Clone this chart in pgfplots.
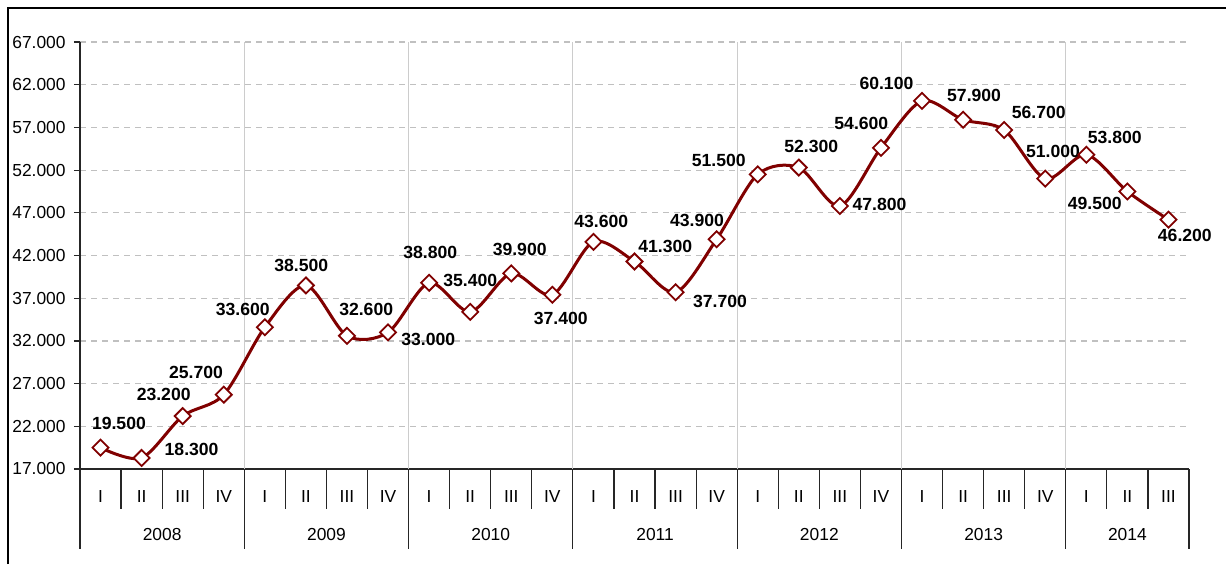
\documentclass[border=0pt]{standalone}
\usepackage{pgfplots}
\pgfplotsset{compat=1.18}
\usepackage{fontspec}
\setmainfont{Liberation Sans}
\definecolor{serie}{HTML}{800000}
\definecolor{gridc}{HTML}{C0C0C0}
\definecolor{yearc}{HTML}{CCCCCC}
\begin{document}
\begin{tikzpicture}[font=\fontsize{8.7}{10}\selectfont]
\path[use as bounding box] (-40pt,-47.5pt) rectangle (573pt,234.5pt);
\draw[line width=1pt] (-36pt,-47.5pt) -- (-36pt,230.5pt) -- (573pt,230.5pt);
\begin{axis}[
  width=554.5pt, height=213.5pt, scale only axis,
  xmin=-0.5, xmax=26.5, ymin=17000, ymax=67000,
  axis lines*=left,
  axis line style={black!85, line width=0.6pt},
  clip=false,
  xtick={0,...,26},
  xticklabels={I,II,III,IV,I,II,III,IV,I,II,III,IV,I,II,III,IV,I,II,III,IV,I,II,III,IV,I,II,III},
  x tick style={draw=none},
  xticklabel style={anchor=center, inner sep=0pt, yshift=-11pt},
  extra x ticks={1.5,5.5,9.5,13.5,17.5,21.5,25},
  extra x tick labels={2008,2009,2010,2011,2012,2013,2014},
  extra x tick style={xticklabel style={yshift=-19pt}, grid=none},
  ytick={17000,22000,...,67000},
  scaled y ticks=false,
  y tick style={black!85, line width=0.6pt},
  major tick length=3pt,
  tick align=outside,
  yticklabel style={anchor=east, inner sep=0pt, xshift=-4pt},
  /pgf/number format/.cd, fixed, precision=0, 1000 sep={.}, assume math mode=true,
  /pgfplots/.cd,
  ymajorgrids,
  major grid style={gridc, line width=0.6pt, dash pattern=on 3pt off 2.5pt},
]
\pgfplotsinvokeforeach{3.5,7.5,11.5,15.5,19.5,23.5}{
  \draw[yearc, line width=0.6pt] (axis cs:#1,17000) -- (axis cs:#1,67000);
}
\pgfplotsinvokeforeach{-0.5,0.5,1.5,2.5,3.5,4.5,5.5,6.5,7.5,8.5,9.5,10.5,11.5,12.5,13.5,14.5,15.5,16.5,17.5,18.5,19.5,20.5,21.5,22.5,23.5,24.5,25.5,26.5}{
  \draw[black!85, line width=0.6pt] (axis cs:#1,17000) -- ++(0pt,-20pt);
}
\pgfplotsinvokeforeach{-0.5,3.5,7.5,11.5,15.5,19.5,23.5,26.5}{
  \draw[black!85, line width=0.6pt] (axis cs:#1,17000) -- ++(0pt,-40pt);
}
\addplot[color=serie, line width=1.5pt, smooth,
  mark=square*, mark size=2.83pt,
  mark options={rotate=45, fill=white, draw=serie, line width=0.9pt, solid},
  nodes near coords, point meta=explicit symbolic,
  visualization depends on={value \thisrow{dx}\as\dx},
  visualization depends on={value \thisrow{dy}\as\dy},
  nodes near coords style={anchor=center, xshift=\dx pt, yshift=\dy pt,
    font=\bfseries\fontsize{8.8}{10}\selectfont, text=black},
] table[x=x, y=y, meta=lab] {
x y dx dy lab
0 19500 9.2 12.3 19.500
1 18300 25 4 18.300
2 23200 -9.5 10.9 23.200
3 25700 -13.9 11.3 25.700
4 33600 -11 9.1 33.600
5 38500 -2.3 10.2 38.500
6 32600 9.6 13.4 32.600
7 33000 20.1 -3.6 33.000
8 38800 0.6 15.4 38.800
9 35400 0 15.8 35.400
10 39900 4.2 12.2 39.900
11 37400 4.2 -11.6 37.400
12 43600 3.9 10.3 43.600
13 41300 15.4 7.4 41.300
14 37700 22.2 -4.7 37.700
15 43900 -9.8 9.5 43.900
16 51500 -19.5 7.2 51.500
17 52300 6.2 10.6 52.300
18 47800 19.8 0.6 47.800
19 54600 -9.8 12 54.600
20 60100 -17.8 8.6 60.100
21 57900 5.5 12.3 57.900
22 56700 17.3 8.6 56.700
23 51000 3.9 13.6 51.000
24 53800 14.2 8.7 53.800
25 49500 -16.3 -6.2 49.500
26 46200 8.2 -7.7 46.200
};
\end{axis}
\end{tikzpicture}
\end{document}
